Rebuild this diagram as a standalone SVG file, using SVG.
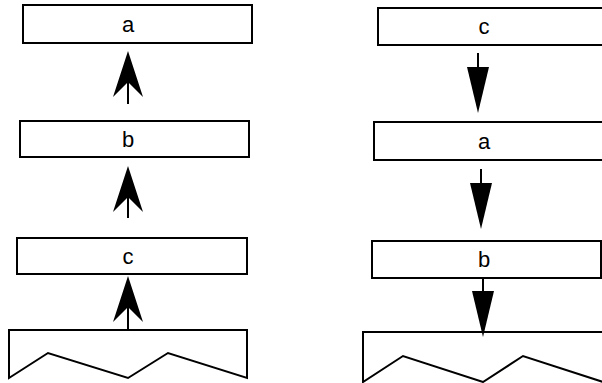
<svg xmlns="http://www.w3.org/2000/svg" width="602" height="383" viewBox="0 0 602 383">
<style>
.box{fill:#fff;stroke:#000;stroke-width:2}
.base{fill:#fff;stroke:#000;stroke-width:2;stroke-linejoin:miter}
.lbl{font-family:"Liberation Sans",Arial,sans-serif;font-size:22px;fill:#000;text-anchor:middle}
.shaft{stroke:#000;stroke-width:2;fill:none}
</style>
<defs>
<marker id="barb" markerUnits="userSpaceOnUse" viewBox="-16 -16 48 32" markerWidth="48" markerHeight="32" refX="0" refY="0" orient="auto">
<path d="M31 0 L-15 -15 L0 0 L-15 15 Z" fill="#000"/>
</marker>
<marker id="tri" markerUnits="userSpaceOnUse" viewBox="-1 -12 48 24" markerWidth="48" markerHeight="24" refX="0" refY="0" orient="auto">
<path d="M0 -11 L46 0 L0 11 Z" fill="#000"/>
</marker>
</defs>
<g id="left-a"><rect class="box" x="23" y="5" width="229" height="38"/><text class="lbl" x="128" y="32">a</text></g>
<g id="left-b"><rect class="box" x="20" y="121" width="229" height="36"/><text class="lbl" x="128" y="147">b</text></g>
<g id="left-c"><rect class="box" x="17" y="238" width="230" height="36"/><text class="lbl" x="128" y="264">c</text></g>
<g id="left-base"><path class="base" d="M9 330 L247 330 L247 378 L168 353 L128 378 L48 353 L9 378 Z"/></g>
<g id="right-c"><rect class="box" x="378" y="8" width="232" height="37"/><text class="lbl" x="484" y="34">c</text></g>
<g id="right-a"><rect class="box" x="374" y="122" width="232" height="38"/><text class="lbl" x="484" y="149">a</text></g>
<g id="right-b"><rect class="box" x="372" y="241" width="229" height="37"/><text class="lbl" x="484" y="267">b</text></g>
<g id="right-base"><path class="base" d="M363 332 L606 332 L606 382 L603 382 L523 356 L483 382 L403 356 L363 382 Z"/></g>
<g id="connectors">
<line class="shaft" x1="128" y1="104" x2="128" y2="82" marker-end="url(#barb)"/>
<line class="shaft" x1="128" y1="218" x2="128" y2="197" marker-end="url(#barb)"/>
<line class="shaft" x1="128" y1="329" x2="128" y2="307" marker-end="url(#barb)"/>
<line class="shaft" x1="478" y1="53" x2="478" y2="67" marker-end="url(#tri)"/>
<line class="shaft" x1="481" y1="169" x2="481" y2="183" marker-end="url(#tri)"/>
<line class="shaft" x1="483" y1="278" x2="483" y2="291" marker-end="url(#tri)"/>
</g>
</svg>
